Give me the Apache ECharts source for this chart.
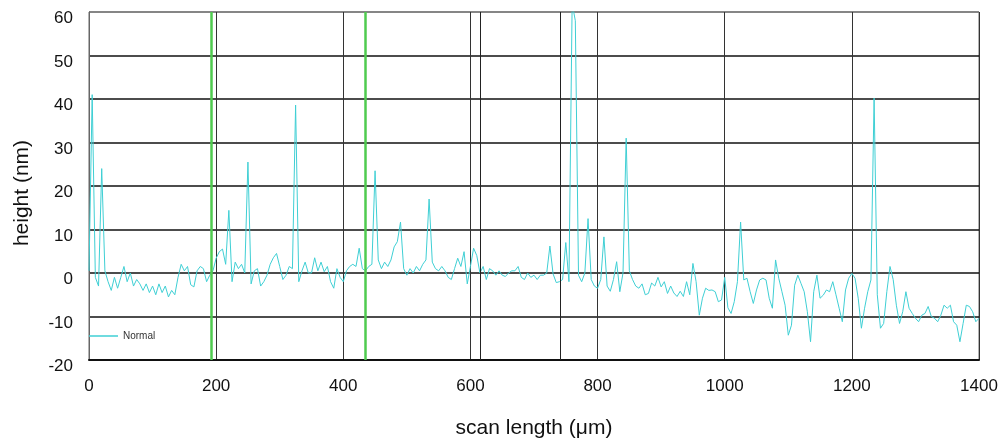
<!DOCTYPE html>
<html>
<head>
<meta charset="utf-8">
<script src="https://cdn.jsdelivr.net/npm/echarts@6/dist/echarts.min.js"></script>
<style>
html,body{margin:0;padding:0;background:#fff;}
#chart{width:1003px;height:440px;}
</style>
</head>
<body>
<div id="chart"></div>
<script>
// scan positions (µm)
var scanLength = [
  0,5,10,15,20,25,30,35,40,45,50,55,60,65,70,75,80,85,90,95,
  100,105,110,115,120,125,130,135,140,145,150,155,160,165,170,175,180,185,190,195,
  200,205,210,215,220,225,230,235,240,245,250,255,260,265,270,275,280,285,290,295,
  300,305,310,315,320,325,330,335,340,345,350,355,360,365,370,375,380,385,390,395,
  400,405,410,415,420,425,430,435,440,445,450,455,460,465,470,475,480,485,490,495,
  500,505,510,515,520,525,530,535,540,545,550,555,560,565,570,575,580,585,590,595,
  600,605,610,615,620,625,630,635,640,645,650,655,660,665,670,675,680,685,690,695,
  700,705,710,715,720,725,730,735,740,745,750,755,760,765,770,775,780,785,790,795,
  800,805,810,815,820,825,830,835,840,845,850,855,860,865,870,875,880,885,890,895,
  900,905,910,915,920,925,930,935,940,945,950,955,960,965,970,975,980,985,990,995,
  1000,1005,1010,1015,1020,1025,1030,1035,1040,1045,1050,1055,1060,1065,1070,1075,1080,1085,1090,1095,
  1100,1105,1110,1115,1120,1125,1130,1135,1140,1145,1150,1155,1160,1165,1170,1175,1180,1185,1190,1195,
  1200,1205,1210,1215,1220,1225,1230,1235,1240,1245,1250,1255,1260,1265,1270,1275,1280,1285,1290,1295,
  1300,1305,1310,1315,1320,1325,1330,1335,1340,1345,1350,1355,1360,1365,1370,1375,1380,1385,1390,1395,
  1400
];
// height (nm)
var heightNm = [
  0.5,41,-1,-3,24,0.5,-2,-4,-1,-3.5,-1,1.5,-2,0,-3,-1.5,-2.5,-4,-2.5,-4.5,
  -3,-5,-2.5,-4.5,-3,-5.5,-4,-5,-1,2,0.5,1.5,-2.7,-3.2,0.5,1.5,1,-2,-0.5,0.5,
  3.4,4.9,5.5,2,14.4,-2,2.5,1,2,0,25.5,-2.5,0.5,1,-3,-2,-0.5,2,3.5,4.5,
  1.5,-1.5,-0.5,1.5,1,38.6,-2,0.5,2.5,0,0,3.5,0.5,2.5,0.3,1.5,-2,-3.5,1,-1,
  -2,0.5,1.5,2,1.5,5.7,1,0.5,1.5,2,23.5,3,1,2.5,1.5,3,6,7.2,11.7,1,
  -0.5,1,0,1.5,0.5,2,3,17,2.5,1,0.5,1.5,0.5,-1,-1.5,1,3.4,1.5,4.9,-2.5,
  1.5,5.7,4,0,1.5,-1.5,1,0.5,-0.5,0.5,-0.5,-0.8,0,0.5,0.5,1.5,-1,-1.5,0,-1,
  -0.5,-1.5,-0.5,-0.5,0,6.2,-0.2,-2.2,-2,-1.5,7,-2,62,58,-0.5,-2,0,12.5,-1.5,-3,
  -3.5,-1.5,8.3,-3,-4.2,-1.5,2.6,-4.3,0,31,0.5,-1.5,-3,-3.5,-2.5,-5,-4.7,-2.3,-3,-1,
  -3.2,-2,-4.7,-3,-4.6,-5.4,-4.2,-5.4,-2,-5,2.2,-2,-9.7,-5.8,-3.5,-4,-3.9,-4.3,-6.6,-6.2,
  -1,-8,-9.3,-6.6,-2,11.7,-1.6,-1.2,-4.3,-7,-3.9,-1.6,-1.2,-1.6,-5.8,-8.1,3,-1.2,-4.3,-7.4,
  -14.3,-12,-2.8,-0.5,-2.4,-4.3,-8.9,-15.8,-4.3,-0.5,-5.8,-5.1,-3.9,-4.3,-2,-5,-8.1,-11.2,-3.9,-1.2,
  -0.1,-1.2,-5.8,-12.7,-8.1,-4.3,-1.6,40.2,-5,-12.7,-11.6,-4.3,1.5,-1.5,-7.4,-11.6,-8.9,-4.3,-8.1,-9.3,
  -10.4,-11.2,-9.7,-9.3,-7.7,-10,-10.4,-11.2,-9.7,-7.4,-8.1,-7.4,-11.2,-12,-15.8,-11.6,-7.4,-7.7,-8.9,-11.2,
  -10.4
];
var seriesName = 'Normal';
var greenMarkers = [193, 435];
var blackMarkers = [615, 741];
var xTicks = [0, 200, 400, 600, 800, 1000, 1200, 1400];
var yTicks = [-20, -10, 0, 10, 20, 30, 40, 50, 60];

var points = scanLength.map(function (x, i) { return [x, heightNm[i]]; });
var markData = greenMarkers.map(function (v) {
  return { xAxis: v, lineStyle: { color: '#4fcb4f', width: 2.5, type: 'solid' } };
}).concat(blackMarkers.map(function (v) {
  return { xAxis: v, lineStyle: { color: '#222', width: 1, type: 'solid' } };
}));

var font = 'Liberation Sans, Arial, sans-serif';
var chart = echarts.init(document.getElementById('chart'), null, { renderer: 'canvas' });
chart.setOption({
  animation: false,
  backgroundColor: '#fff',
  grid: { left: 89, right: 24, top: 12, bottom: 80, containLabel: false, outerBoundsMode: 'none', show: true, borderColor: '#666', borderWidth: 1, backgroundColor: 'transparent' },
  legend: {
    show: true, left: 89, top: 331, padding: 0,
    data: [{ name: seriesName, icon: 'rect' }],
    itemWidth: 29, itemHeight: 1.5, itemGap: 5,
    textStyle: { fontFamily: 'Liberation Sans Narrow, Liberation Sans, sans-serif', fontSize: 10, color: '#333', padding: [0, 0, 0, 0] }
  },
  xAxis: {
    type: 'value', min: xTicks[0], max: xTicks[xTicks.length - 1], interval: 200,
    name: 'scan length (μm)', nameLocation: 'middle', nameGap: 58,
    nameTextStyle: { fontFamily: font, fontSize: 21, color: '#111' },
    axisLine: { show: true, onZero: false, lineStyle: { color: '#111', width: 2 } },
    axisTick: { show: false },
    axisLabel: { fontFamily: font, fontSize: 17, color: '#111', margin: 18, formatter: function (v) { return String(v); } },
    splitLine: { show: true, lineStyle: { color: '#333', width: 1 } }
  },
  yAxis: {
    type: 'value', min: yTicks[0], max: yTicks[yTicks.length - 1], interval: 10,
    name: 'height (nm)', nameLocation: 'middle', nameGap: 56, nameRotate: 90,
    nameTextStyle: { fontFamily: font, fontSize: 21, color: '#111', padding: [0, 14, 0, 0] },
    axisLine: { show: true, lineStyle: { color: '#666', width: 1 } },
    axisTick: { show: false },
    axisLabel: { fontFamily: font, fontSize: 17, color: '#111', margin: 16, verticalAlign: 'top', lineHeight: 13 },
    splitLine: { show: true, lineStyle: { color: ['#111','#111','#111','#111','#111','#111','#111','#111','#777'], width: 1.5 } }
  },
  series: [{
    name: seriesName,
    type: 'line',
    data: points,
    showSymbol: false,
    symbol: 'none',
    clip: true,
    lineStyle: { color: '#3fcfd4', width: 1 },
    itemStyle: { color: '#3fcfd4' },
    markLine: { silent: true, symbol: 'none', label: { show: false }, data: markData, animation: false }
  }]
});
</script>
</body>
</html>
